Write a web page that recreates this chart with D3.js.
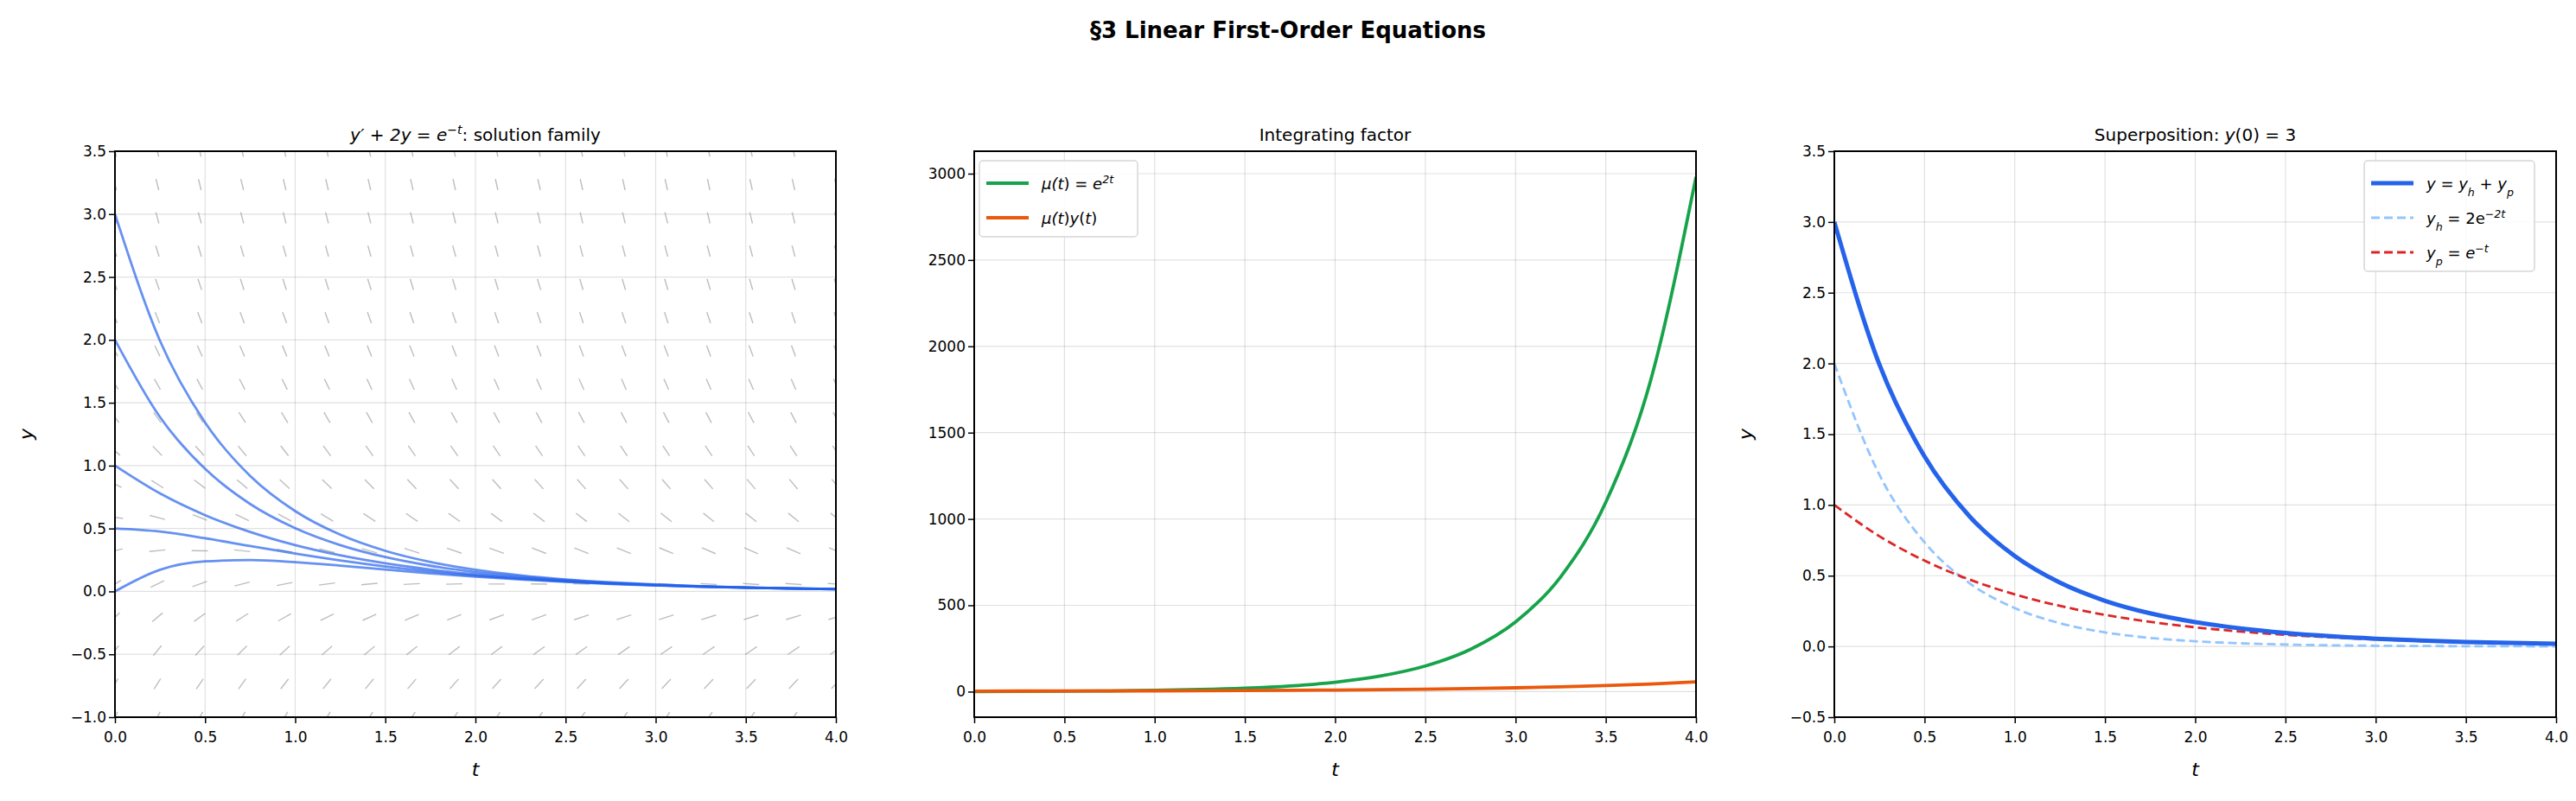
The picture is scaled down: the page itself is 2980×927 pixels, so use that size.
<!DOCTYPE html>
<html><head><meta charset="utf-8">
<script src="https://cdn.jsdelivr.net/npm/d3@7"></script>
<style>body{margin:0;background:#fff}svg{font-family:"DejaVu Sans",sans-serif}</style>
</head><body><svg id="fig" width="2980" height="927"></svg>
<script>
// --- data ---
const tVals = [0,0.25,0.5,0.75,1,1.25,1.5,1.75,2,2.25,2.5,2.75,3,3.25,3.5,3.75,4];
const family = [
  [0,.1723,.2386,.2493,.2326,.2044,.1733,.1436,.1170,.0943,.0754,.0598,.0473,.0373,.0293,.0229,.0180],
  [.5,.4756,.4226,.3609,.3003,.2455,.1982,.1587,.1262,.0999,.0788,.0619,.0486,.0381,.0298,.0232,.0182],
  [1,.7788,.6065,.4724,.3679,.2865,.2231,.1738,.1353,.1054,.0821,.0639,.0498,.0388,.0302,.0235,.0183],
  [2,1.3853,.9744,.6955,.5032,.3686,.2729,.2040,.1536,.1165,.0888,.0680,.0523,.0403,.0311,.0241,.0186],
  [3,1.9918,1.3423,.9186,.6385,.4507,.3227,.2342,.1719,.1276,.0955,.0721,.0548,.0418,.0320,.0247,.0189]
];
const muVals = [1,1.65,2.72,4.48,7.39,12.18,20.09,33.12,54.6,90.0,148.4,244.7,403.4,665.1,1096.6,1808.0,2981.0];
const muYVals = [3,3.28,3.65,4.12,4.72,5.49,6.48,7.75,9.39,11.49,14.18,17.64,22.09,27.79,35.12,44.52,56.60];
const yFull = family[4];
const yHom = [2,1.2131,.7358,.4463,.2707,.1642,.0996,.0604,.0366,.0222,.0135,.0082,.0050,.0030,.0018,.0011,.0007];
const yPart = family[2];
const tTicks = [0,0.5,1,1.5,2,2.5,3,3.5,4];
const fieldT = d3.range(18).map(i => i*4/17);
const fieldY = d3.range(18).map(i => -1 + i*4.5/17);
const slope = (t, y) => Math.exp(-t) - 2*y;   // direction field of y' + 2y = e^{-t}

const svg = d3.select("#fig");
const yTop = 175, yBot = 830;
const panels = [[133,967],[1127,1962],[2122,2957]];

svg.append("text").attr("x",1490).attr("y",44).attr("text-anchor","middle")
  .attr("font-size",26).attr("font-weight","bold").text("§3  Linear First-Order Equations");

function rich(sel, parts){
  parts.forEach(p => {
    const ts = sel.append("tspan").text(p[0]);
    if (p[1]) ts.attr("font-style","italic");
    if (p[2]) ts.attr("baseline-shift","super").attr("font-size","70%");
    if (p[3]) ts.attr("baseline-shift","sub").attr("font-size","70%");
  });
}

function setupPanel(idx, yDom, yTicks, fmt, title, yLabel){
  const [x0,x1] = panels[idx];
  const x = d3.scaleLinear().domain([0,4]).range([x0,x1]);
  const y = d3.scaleLinear().domain(yDom).range([yBot,yTop]);
  const g = svg.append("g");
  g.append("g").selectAll("line").data(tTicks).join("line")
    .attr("x1",d=>x(d)).attr("x2",d=>x(d)).attr("y1",yTop).attr("y2",yBot)
    .attr("stroke","#000").attr("stroke-opacity",0.12).attr("stroke-width",1.2);
  g.append("g").selectAll("line").data(yTicks).join("line")
    .attr("y1",d=>y(d)).attr("y2",d=>y(d)).attr("x1",x0).attr("x2",x1)
    .attr("stroke","#000").attr("stroke-opacity",0.12).attr("stroke-width",1.2);
  const plot = g.append("g");
  const ax = g.append("g").attr("transform",`translate(0,${yBot})`)
    .call(d3.axisBottom(x).tickValues(tTicks).tickFormat(d3.format(".1f")).tickSize(7).tickSizeOuter(0));
  const ay = g.append("g").attr("transform",`translate(${x0},0)`)
    .call(d3.axisLeft(y).tickValues(yTicks).tickFormat(fmt).tickSize(7).tickSizeOuter(0));
  [ax,ay].forEach(a => { a.select(".domain").remove();
    a.selectAll("text").attr("font-size",17).attr("font-family","DejaVu Sans").attr("fill","#000");
    a.selectAll("line").attr("stroke-width",1.5); });
  ax.selectAll("text").attr("dy","1.1em");
  g.append("rect").attr("x",x0).attr("y",yTop).attr("width",x1-x0).attr("height",yBot-yTop)
    .attr("fill","none").attr("stroke","#000").attr("stroke-width",2);
  rich(g.append("text").attr("x",(x0+x1)/2).attr("y",yTop-12).attr("text-anchor","middle").attr("font-size",20), title);
  g.append("text").attr("x",(x0+x1)/2).attr("y",yBot+68).attr("text-anchor","middle")
    .attr("font-size",22).attr("font-style","italic").text("t");
  if (yLabel) g.append("text").attr("transform",`translate(${x0-95},${(yTop+yBot)/2}) rotate(-90)`)
    .attr("text-anchor","middle").attr("font-size",22).attr("font-style","italic").text("y");
  const clipId = "clip"+idx;
  svg.append("clipPath").attr("id",clipId).append("rect").attr("x",x0).attr("y",yTop).attr("width",x1-x0).attr("height",yBot-yTop);
  plot.attr("clip-path",`url(#${clipId})`);
  return {x,y,plot};
}

function legend(x0, y0, w, items){
  const h = items.length*40 + 8;
  const g = svg.append("g");
  g.append("rect").attr("x",x0).attr("y",y0).attr("width",w).attr("height",h).attr("rx",4)
    .attr("fill","#fff").attr("fill-opacity",0.85).attr("stroke","#d6d6d6").attr("stroke-width",1.5);
  items.forEach((it,i) => {
    const yy = y0 + 26 + i*40;
    g.append("line").attr("x1",x0+8).attr("x2",x0+57).attr("y1",yy).attr("y2",yy)
      .attr("stroke",it.color).attr("stroke-width",it.w).attr("stroke-dasharray",it.dash||null);
    rich(g.append("text").attr("x",x0+72).attr("y",yy+7).attr("font-size",18), it.label);
  });
}

// Panel 1: solution family + direction field
{
  const {x,y,plot} = setupPanel(0,[-1,3.5],d3.range(-1,3.51,0.5),d3.format(".1f"),
    [["y′ + 2",true],["y",true],[" = ",false],["e",true],["−t",true,true],[": solution family"]], true);
  const L = 0.09;
  const segs = [];
  fieldT.forEach(t => fieldY.forEach(v => {
    const s = slope(t,v), n = Math.hypot(1,s);
    segs.push([t - L/2/n, v - L/2*s/n, t + L/2/n, v + L/2*s/n]);
  }));
  plot.append("g").selectAll("line").data(segs).join("line")
    .attr("x1",d=>x(d[0])).attr("y1",d=>y(d[1])).attr("x2",d=>x(d[2])).attr("y2",d=>y(d[3]))
    .attr("stroke","#999").attr("stroke-opacity",0.65).attr("stroke-width",1.4);
  const line = d3.line().x((d,i)=>x(tVals[i])).y(d=>y(d)).curve(d3.curveMonotoneX);
  plot.selectAll("path.sol").data(family).join("path").attr("class","sol")
    .attr("d",line).attr("fill","none").attr("stroke","#2563eb").attr("stroke-opacity",0.7).attr("stroke-width",2.8);
}

// Panel 2: integrating factor
{
  const {x,y,plot} = setupPanel(1,[-148,3130],d3.range(0,3001,500),d3.format("d"),[["Integrating factor"]], false);
  const line = d3.line().x((d,i)=>x(tVals[i])).y(d=>y(d)).curve(d3.curveMonotoneX);
  plot.append("path").attr("d",line(muVals)).attr("fill","none").attr("stroke","#16a34a").attr("stroke-width",3.8);
  plot.append("path").attr("d",line(muYVals)).attr("fill","none").attr("stroke","#ea580c").attr("stroke-width",3.8);
  legend(1133,186,183,[
    {color:"#16a34a",w:4,label:[["μ(",true],["t",true],[") = ",false],["e",true],["2t",true,true]]},
    {color:"#ea580c",w:4,label:[["μ(",true],["t",true],[")",false],["y",true],["(",false],["t",true],[")",false]]}
  ]);
}

// Panel 3: superposition
{
  const {x,y,plot} = setupPanel(2,[-0.5,3.5],d3.range(-0.5,3.51,0.5),d3.format(".1f"),
    [["Superposition: "],["y",true],["(0) = 3"]], true);
  const line = d3.line().x((d,i)=>x(tVals[i])).y(d=>y(d)).curve(d3.curveMonotoneX);
  plot.append("path").attr("d",line(yHom)).attr("fill","none").attr("stroke","#93c5fd").attr("stroke-width",2.8).attr("stroke-dasharray","10,5");
  plot.append("path").attr("d",line(yPart)).attr("fill","none").attr("stroke","#dc2626").attr("stroke-width",2.8).attr("stroke-dasharray","10,5");
  plot.append("path").attr("d",line(yFull)).attr("fill","none").attr("stroke","#2563eb").attr("stroke-width",5);
  legend(2735,186,197,[
    {color:"#2563eb",w:5,label:[["y",true],[" = ",false],["y",true],["h",true,false,true],[" + ",false],["y",true],["p",true,false,true]]},
    {color:"#93c5fd",w:3,dash:"10,5",label:[["y",true],["h",true,false,true],[" = 2",false],["e",false],["−2t",true,true]]},
    {color:"#dc2626",w:3,dash:"10,5",label:[["y",true],["p",true,false,true],[" = ",false],["e",true],["−t",true,true]]}
  ]);
}
</script></body></html>
